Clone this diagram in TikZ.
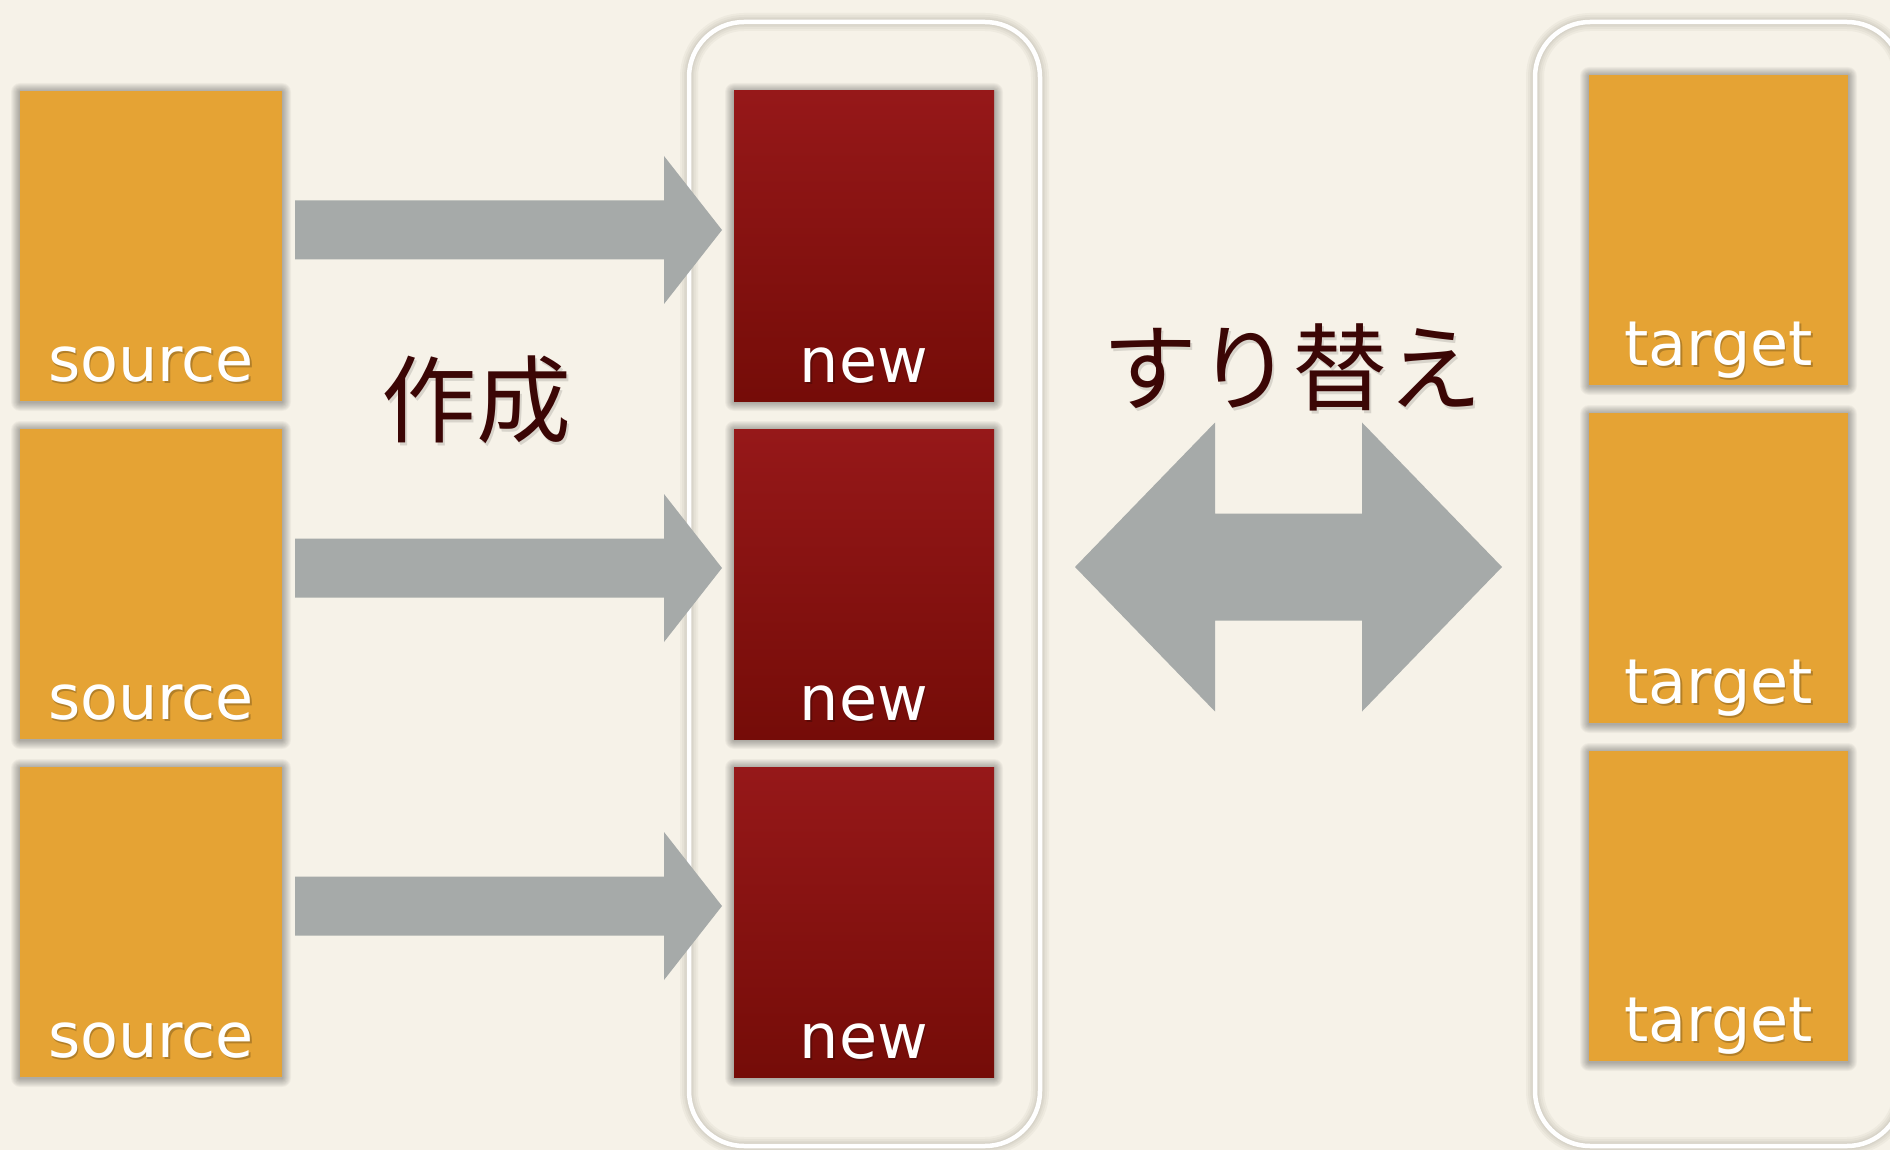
\documentclass[tikz,border=0pt]{standalone}
\usepackage{fontspec}
\newfontfamily\labfont{DejaVu Sans}
\newfontfamily\jpfont{Noto Sans CJK JP}
\usetikzlibrary{calc}
\definecolor{bgc}{HTML}{F6F2E8}
\definecolor{orangec}{HTML}{E5A334}
\definecolor{redtop}{HTML}{961819}
\definecolor{redbot}{HTML}{750C08}
\definecolor{arrowc}{HTML}{A6AAA9}
\definecolor{jpc}{HTML}{3B0605}
\definecolor{shadc}{HTML}{6E6A5E}
\pgfdeclarelayer{bg}
\pgfdeclarelayer{shad}
\pgfsetlayers{bg,shad,main}
\begin{document}
\begin{tikzpicture}[x=1pt,y=-1pt,
  box/.style={minimum width=262pt, minimum height=310pt, inner sep=0pt, outer sep=0pt},
  srcbox/.style={box, fill=orangec},
  newbox/.style={box, minimum width=260pt, top color=redtop, bottom color=redbot},
  tgtbox/.style={box, minimum width=259pt, fill=orangec},
  holder/.style={inner sep=0pt, outer sep=0pt, minimum height=1124pt},
  frame/.style={draw=white, line width=4.5pt, rounded corners=55pt},
  frameshadow/.style={draw=shadc, rounded corners=55pt},
  lab/.style={anchor=base, font=\labfont\fontsize{62}{70}\selectfont, text=white, inner sep=0pt},
  labshadow/.style={lab, text=black, opacity=0.22},
  jp/.style={anchor=base, font=\jpfont\fontsize{95}{110}\selectfont, text=jpc, inner sep=0pt},
  jpshadow/.style={jp, text=black, opacity=0.12},
  blockarrow/.style={fill=arrowc}
]
\useasboundingbox (0,0) rectangle (1890,1150);
\begin{pgfonlayer}{bg}
  \fill[bgc] (0,0) rectangle (1890,1150);
\end{pgfonlayer}

% containers
\node[holder, minimum width=351pt] (c1) at (864.5,584) {};
\node[holder, minimum width=367pt] (c2) at (1718.5,584) {};

% boxes
\foreach \i/\y in {1/246,2/584,3/922}{
  \node[srcbox] (s\i) at (151,\y) {};
  \node[newbox] (n\i) at (864,\y) {};
}
\foreach \i/\y in {1/230,2/568,3/906}{
  \node[tgtbox] (t\i) at (1718.5,\y) {};
}

% shadows
\begin{pgfonlayer}{shad}
  \foreach \n in {s1,s2,s3,n1,n2,n3,t1,t2,t3}{
    \foreach \k in {1,...,9}{
      \fill[black, opacity=0.035, rounded corners=\k pt]
        ($(\n.north west)+(-\k,-\k+1)$) rectangle ($(\n.south east)+(\k,\k+1)$);
    }
  }
  \foreach \c in {c1,c2}{
    \foreach \w in {18,14,10,7}{
      \draw[frameshadow, line width=\w pt, opacity=0.06] (\c.north west) rectangle (\c.south east);
    }
  }
\end{pgfonlayer}
\draw[frame] (c1.north west) rectangle (c1.south east);
\draw[frame] (c2.north west) rectangle (c2.south east);

% labels
\foreach \i in {1,2,3}{
  \node[labshadow] (sls\i) at ($(s\i.south)+(1.5,-17.5)$) {source};
  \node[labshadow] (nls\i) at ($(n\i.south)+(1.5,-16.5)$) {new};
  \node[labshadow] (tls\i) at ($(t\i.south)+(1.5,-17.5)$) {target};
  \node[lab] (sl\i) at ($(s\i.south)+(0,-20)$) {source};
  \node[lab] (nl\i) at ($(n\i.south)+(0,-19)$) {new};
  \node[lab] (tl\i) at ($(t\i.south)+(0,-20)$) {target};
}

% creation arrows
\foreach \i in {1,2,3}{
  \coordinate (as\i) at ($(s\i.east)+(13,-16)$);
  \coordinate (ae\i) at ($(n\i.west)+(-12,-16)$);
  \fill[blockarrow] ($(as\i)+(0,-29.5)$) -- ($(ae\i)+(-58,-29.5)$) -- ($(ae\i)+(-58,-74)$)
     -- (ae\i) -- ($(ae\i)+(-58,74)$) -- ($(ae\i)+(-58,29.5)$) -- ($(as\i)+(0,29.5)$) -- cycle;
}

% swap arrow
\coordinate (dl) at ($(c1.east)+(35,-17)$);
\coordinate (dr) at ($(c2.west)+(-33,-17)$);
\fill[blockarrow] (dl) -- ($(dl)+(140,-144.5)$) -- ($(dl)+(140,-53.5)$) -- ($(dr)+(-140,-53.5)$)
   -- ($(dr)+(-140,-144.5)$) -- (dr) -- ($(dr)+(-140,144.5)$) -- ($(dr)+(-140,53.5)$)
   -- ($(dl)+(140,53.5)$) -- ($(dl)+(140,144.5)$) -- cycle;

% Japanese labels
\node[jpshadow] (creates) at (478,438) {作成};
\node[jpshadow] (swaps) at (1294.5,406) {すり替え};
\node[jp] (create) at (476,435) {作成};
\node[jp] (swap) at (1292.5,403) {すり替え};
\end{tikzpicture}
\end{document}
